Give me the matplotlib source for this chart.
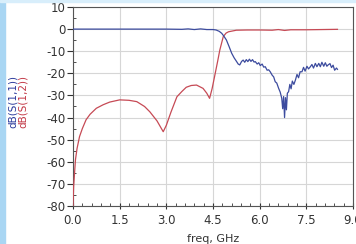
import matplotlib
matplotlib.use("Agg")
import matplotlib.pyplot as plt
from matplotlib.patches import Rectangle
from matplotlib.ticker import MultipleLocator

# S(1,2) (red)
f12 = [0.0, 0.02, 0.05, 0.08, 0.13, 0.21, 0.3, 0.42, 0.55, 0.75, 0.97, 1.18, 1.5, 1.8, 2.05, 2.3, 2.47, 2.7, 2.9,
       3.0, 3.15, 3.34, 3.5, 3.64, 3.8, 3.97, 4.18, 4.3, 4.39, 4.47, 4.55, 4.65, 4.72, 4.83, 4.92, 5.0, 5.25,
       5.6, 6.0, 6.4, 6.6, 6.8, 7.0, 7.5, 8.0, 8.5]
s12 = [-80, -71.4, -65, -59, -54, -48.6, -45, -41, -38.5, -35.8, -34.2, -33, -32, -32.2, -32.8, -35, -37.4, -41.5, -46.4,
       -43.5, -37.5, -30.6, -28.2, -26.3, -25.5, -25.3, -26.8, -29, -31.3, -27, -21.5, -14.5, -9.4, -3.4, -1.8, -1.2, -0.5,
       -0.4, -0.4, -0.5, -0.2, -0.6, -0.3, -0.3, -0.2, -0.1]

# S(1,1) (blue)
f11 = [0.0, 1.0, 2.0, 3.0, 3.5, 3.7, 3.9, 4.1, 4.3, 4.5, 4.6, 4.7, 4.78, 4.85, 4.93, 5.02, 5.1, 5.18, 5.26, 5.31, 5.36,
       5.42, 5.47, 5.52, 5.57, 5.62, 5.67, 5.72, 5.77, 5.82, 5.86, 5.92, 5.97, 6.02, 6.08, 6.13, 6.18, 6.24, 6.29, 6.34,
       6.4, 6.45, 6.5, 6.55, 6.61, 6.66, 6.71, 6.74, 6.77, 6.8, 6.83, 6.86, 6.89, 6.93, 6.97, 7.01, 7.05, 7.1, 7.15,
       7.2, 7.25, 7.3, 7.36, 7.41, 7.46, 7.52, 7.57, 7.63, 7.68, 7.73, 7.79, 7.84, 7.9, 7.95, 8.0, 8.06, 8.11, 8.16,
       8.2, 8.26, 8.31, 8.36, 8.41, 8.47, 8.5]
s11 = [0.0, 0.0, 0.0, 0.0, -0.1, 0.1, -0.2, 0.1, -0.2, -0.2, -0.4, -1.0, -1.9, -3.2, -4.9, -8.0, -10.9, -13.0, -14.7, -15.8, -16.2,
       -14.6, -14.0, -15.0, -13.8, -14.7, -13.6, -14.6, -13.8, -14.9, -14.7, -15.8, -15.2, -16.5, -15.8, -17.2, -17.0, -18.6, -18.4, -19.3,
       -20.8, -21.6, -23.8, -24.4, -26.8, -28.5, -31.3, -36.0, -30.5, -40.0, -31.0, -36.5, -29.0, -28.3, -25.0, -27.0, -23.5, -25.0, -23.0,
       -20.5, -22.0, -19.3, -19.3, -17.3, -19.0, -16.8, -18.0, -17.0, -16.0, -17.6, -15.5, -17.0, -15.5, -17.0, -15.0, -16.8, -15.2, -16.8,
       -16.2, -15.6, -17.4, -16.3, -18.6, -17.6, -18.2]

xticks = [0.0, 1.5, 3.0, 4.5, 6.0, 7.5, 9.0]
xtick_labels = ["0.0", "1.5", "3.0", "4.5", "6.0", "7.5", "9.0"]
yticks = [10, 0, -10, -20, -30, -40, -50, -60, -70, -80]

BLUE = "#3c4b9e"
RED = "#c64a55"

fig = plt.figure(figsize=(3.56, 2.44), dpi=100)
fig.patch.set_facecolor("white")
fig.patches.append(Rectangle((0, 0), 5/356, 1, transform=fig.transFigure, color="#a9d6f3", zorder=0))
fig.patches.append(Rectangle((0, 1-2/244), 1, 2/244, transform=fig.transFigure, color="#d8eefb", zorder=0))

ax = fig.add_axes([73/356, 1-206/244, 280/356, 199/244])
ax.plot(f12, s12, color=RED, lw=0.9, zorder=3)
ax.plot(f11, s11, color=BLUE, lw=0.9, zorder=3)

ax.set_xlim(0, 9)
ax.set_ylim(-80, 10)
ax.set_xticks(xticks)
ax.set_xticklabels(xtick_labels)
ax.set_yticks(yticks)
ax.set_yticklabels([str(v) for v in yticks])
ax.xaxis.set_minor_locator(MultipleLocator(0.3))
ax.yaxis.set_minor_locator(MultipleLocator(5))
ax.grid(True, which="major", color="#d6d6d6", lw=0.8)
ax.tick_params(axis="both", which="major", length=4, width=0.8, color="#333333",
               labelsize=8.5, labelcolor="#333333", pad=1.5)
ax.tick_params(axis="x", which="major", direction="inout", length=5, pad=3.5)
ax.tick_params(axis="both", which="minor", length=2.5, width=0.6, color="#333333", direction="in")
for s in ax.spines.values():
    s.set_color("#555555")
    s.set_linewidth(0.8)

ax.set_xlabel("freq, GHz", fontsize=8, color="#333333", labelpad=5)

fig.text(13/356, 1-101/244, "dB(S(1,1))", rotation=90, color="#2b3a9c", fontsize=7.5,
         ha="center", va="center")
fig.text(23/356, 1-101/244, "dB(S(1,2))", rotation=90, color="#c23846", fontsize=7.5,
         ha="center", va="center")

fig.savefig("out.png", dpi=100)
